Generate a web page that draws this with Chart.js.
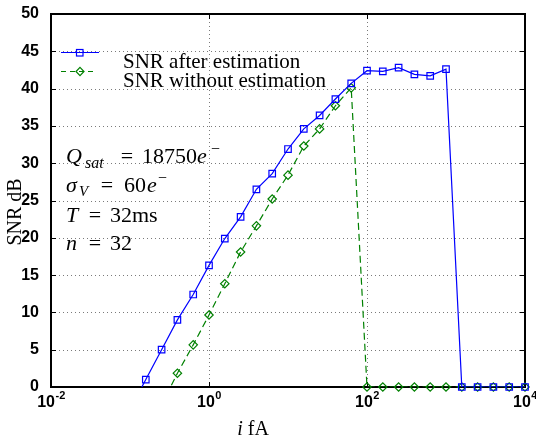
<!DOCTYPE html>
<html><head><meta charset="utf-8">
<script src="https://cdn.jsdelivr.net/npm/chart.js@4/dist/chart.umd.min.js"></script>
<style>html,body{margin:0;padding:0;background:#fff;}#wrap{width:536px;height:440px;position:relative;}</style>
</head><body><div id="wrap"><canvas id="c" width="536" height="440"></canvas></div>
<script>
// ---- data ----
const currents = [0.1, 0.1585, 0.2512, 0.3981, 0.631, 1, 1.585, 2.512, 3.981, 6.31, 10, 15.85, 25.12, 39.81, 63.1, 100, 158.5, 251.2, 398.1, 631, 1000, 1585, 2512, 3981, 6310, 10000];
const snrAfter = [-3.0, 1.0, 5.0, 9.0, 12.4, 16.3, 19.9, 22.8, 26.5, 28.6, 31.9, 34.6, 36.4, 38.6, 40.7, 42.4, 42.3, 42.8, 41.9, 41.7, 42.6, 0, 0, 0, 0, 0];
const snrWithout = [null, null, -2.4, 1.85, 5.65, 9.65, 13.85, 18.1, 21.6, 25.2, 28.4, 32.3, 34.6, 37.7, 40.1, 0, 0, 0, 0, 0, 0, 0, 0, 0, 0, 0];
const seriesLabels = ['SNR after estimation', 'SNR without estimation'];
const xTicks = [0.01, 1, 100, 10000];
const xTickExp = ['-2', '0', '2', '4'];
const yTicks = [0, 5, 10, 15, 20, 25, 30, 35, 40, 45, 50];
const xTitle = ['i', ' fA'];
const yTitle = 'SNR dB';

const BLUE = '#0000ff', GREEN = '#008000';
const pairs = arr => currents.map((c, i) => ({x: c, y: arr[i]}));

const SERIF = '"Liberation Serif", "Times New Roman", serif';
const SANS = '"Liberation Sans", Arial, sans-serif';

function runText(ctx, t, x, y, size, italic, align) {
  ctx.font = (italic ? 'italic ' : '') + size + 'px ' + SERIF;
  ctx.textAlign = align || 'left';
  ctx.fillText(t, x, y);
}

const frame = {
  id: 'frame',
  beforeDatasetsDraw(chart) {
    const {ctx, chartArea: a, scales: {x, y}} = chart;
    ctx.save();
    ctx.strokeStyle = '#7a7a7a'; ctx.lineWidth = 1; ctx.setLineDash([1, 3]);
    ctx.beginPath();
    yTicks.forEach(v => { if (v <= 0 || v >= 50) return; const py = Math.round(y.getPixelForValue(v)) + 0.5; ctx.moveTo(a.left, py); ctx.lineTo(a.right, py); });
    xTicks.forEach(v => { if (v <= 0.01 || v >= 10000) return; const px = Math.round(x.getPixelForValue(v)) + 0.5; ctx.moveTo(px, a.top); ctx.lineTo(px, a.bottom); });
    ctx.stroke();
    ctx.setLineDash([]);
    ctx.strokeStyle = '#000'; ctx.lineWidth = 1;
    ctx.beginPath();
    const L = 5;
    yTicks.forEach(v => { const py = Math.round(y.getPixelForValue(v)) + 0.5; ctx.moveTo(a.left, py); ctx.lineTo(a.left + L, py); ctx.moveTo(a.right, py); ctx.lineTo(a.right - L, py); });
    xTicks.forEach(v => { const px = Math.round(x.getPixelForValue(v)) + 0.5; ctx.moveTo(px, a.bottom); ctx.lineTo(px, a.bottom - L); ctx.moveTo(px, a.top); ctx.lineTo(px, a.top + L); });
    ctx.stroke();
    ctx.lineWidth = 2;
    ctx.strokeRect(a.left, a.top, a.right - a.left, a.bottom - a.top);
    ctx.restore();
  },
  afterDraw(chart) {
    const {ctx, chartArea: a, scales: {x, y}} = chart;
    ctx.save();
    ctx.fillStyle = '#000';
    ctx.textBaseline = 'alphabetic';
    // x tick labels 10^k
    xTicks.forEach((v, i) => {
      const px = x.getPixelForValue(v);
      ctx.font = 'bold 16px ' + SANS;
      const w1 = ctx.measureText('10').width;
      ctx.font = 'bold 11px ' + SANS;
      const w2 = ctx.measureText(xTickExp[i]).width;
      const sx = px - (w1 + w2) / 2;
      ctx.textAlign = 'left';
      ctx.font = 'bold 16px ' + SANS;
      ctx.fillText('10', sx, 407);
      ctx.font = 'bold 11px ' + SANS;
      ctx.fillText(xTickExp[i], sx + w1 + 0.5, 399);
    });
    // axis titles
    ctx.font = 'italic 20px ' + SERIF;
    ctx.textAlign = 'left';
    const wi = ctx.measureText(xTitle[0]).width;
    ctx.font = '20px ' + SERIF;
    const wf = ctx.measureText(xTitle[1]).width;
    const tx = 253 - (wi + wf) / 2;
    runText(ctx, xTitle[0], tx, 435, 20, true);
    runText(ctx, xTitle[1], tx + wi, 435, 20, false);
    ctx.save();
    ctx.translate(21, 212);
    ctx.rotate(-Math.PI / 2);
    runText(ctx, yTitle, 0, 0, 20, false, 'center');
    ctx.restore();
    // annotations
    runText(ctx, 'Q', 66, 163, 22, true);
    runText(ctx, 'sat', 85, 168, 16, true);
    runText(ctx, '=', 127, 163, 22, false, 'center');
    runText(ctx, '18750', 142, 163, 22, false);
    runText(ctx, 'e', 197, 163, 22, true);
    runText(ctx, '\u2212', 211, 154, 16, false);

    runText(ctx, '\u03c3', 66, 192, 22, true);
    runText(ctx, 'V', 79, 196, 15, true);
    runText(ctx, '=', 107, 192, 22, false, 'center');
    runText(ctx, '60', 124, 192, 22, false);
    runText(ctx, 'e', 147, 192, 22, true);
    runText(ctx, '\u2212', 158, 183, 16, false);

    runText(ctx, 'T', 66, 222, 22, true);
    runText(ctx, '=', 95, 222, 22, false, 'center');
    runText(ctx, '32ms', 110, 222, 22, false);

    runText(ctx, 'n', 66, 250, 22, true);
    runText(ctx, '=', 95, 250, 22, false, 'center');
    runText(ctx, '32', 110, 250, 22, false);

    // legend
    ctx.lineWidth = 1.2;
    ctx.strokeStyle = BLUE;
    ctx.beginPath(); ctx.moveTo(61, 52.5); ctx.lineTo(99, 52.5); ctx.stroke();
    ctx.strokeRect(76.5, 49.5, 6.5, 6.5);
    ctx.strokeStyle = GREEN;
    ctx.setLineDash([5, 4]);
    ctx.beginPath(); ctx.moveTo(61, 71.5); ctx.lineTo(95, 71.5); ctx.stroke();
    ctx.setLineDash([]);
    ctx.beginPath(); ctx.moveTo(80, 67.3); ctx.lineTo(84, 71.5); ctx.lineTo(80, 75.7); ctx.lineTo(76, 71.5); ctx.closePath(); ctx.stroke();
    ctx.fillStyle = '#000';
    runText(ctx, seriesLabels[0], 123, 67.5, 21, false);
    runText(ctx, seriesLabels[1], 123, 86.5, 21, false);
    ctx.restore();
  }
};

new Chart(document.getElementById('c'), {
  type: 'line',
  data: {
    datasets: [
      {label: seriesLabels[0], data: pairs(snrAfter), borderColor: BLUE, borderWidth: 1.2, pointRadius: 0, clip: 0, order: 1, fill: false, tension: 0},
      {label: seriesLabels[0] + ' markers', data: pairs(snrAfter), showLine: false, pointStyle: 'rect', pointRadius: 4.6, pointBorderColor: BLUE, pointBackgroundColor: 'rgba(0,0,0,0)', pointBorderWidth: 1.2, clip: 6, order: 0},
      {label: seriesLabels[1], data: pairs(snrWithout), borderColor: GREEN, borderWidth: 1.2, borderDash: [7, 4], pointRadius: 0, clip: 0, order: 3, fill: false, tension: 0},
      {label: seriesLabels[1] + ' markers', data: pairs(snrWithout), showLine: false, pointStyle: 'rectRot', pointRadius: 4.2, pointBorderColor: GREEN, pointBackgroundColor: 'rgba(0,0,0,0)', pointBorderWidth: 1.2, clip: 6, order: 2}
    ]
  },
  options: {
    responsive: false,
    animation: false,
    events: [],
    layout: {padding: {left: 0, right: 11, top: 14, bottom: 0}},
    plugins: {legend: {display: false}, tooltip: {enabled: false}, title: {display: false}},
    scales: {
      x: {
        type: 'logarithmic', min: 0.01, max: 10000,
        grid: {display: false}, border: {display: false},
        ticks: {display: false},
        afterBuildTicks: s => { s.ticks = xTicks.map(v => ({value: v})); },
        afterFit: s => { s.height = 53; }
      },
      y: {
        type: 'linear', min: 0, max: 50,
        grid: {display: false}, border: {display: false},
        ticks: {stepSize: 5, color: '#000', padding: 4, font: {family: SANS, size: 16, weight: 'bold'}},
        afterBuildTicks: s => { s.ticks = yTicks.map(v => ({value: v})); },
        afterFit: s => { s.width = 51; }
      }
    }
  },
  plugins: [frame]
});
</script>
</body></html>
